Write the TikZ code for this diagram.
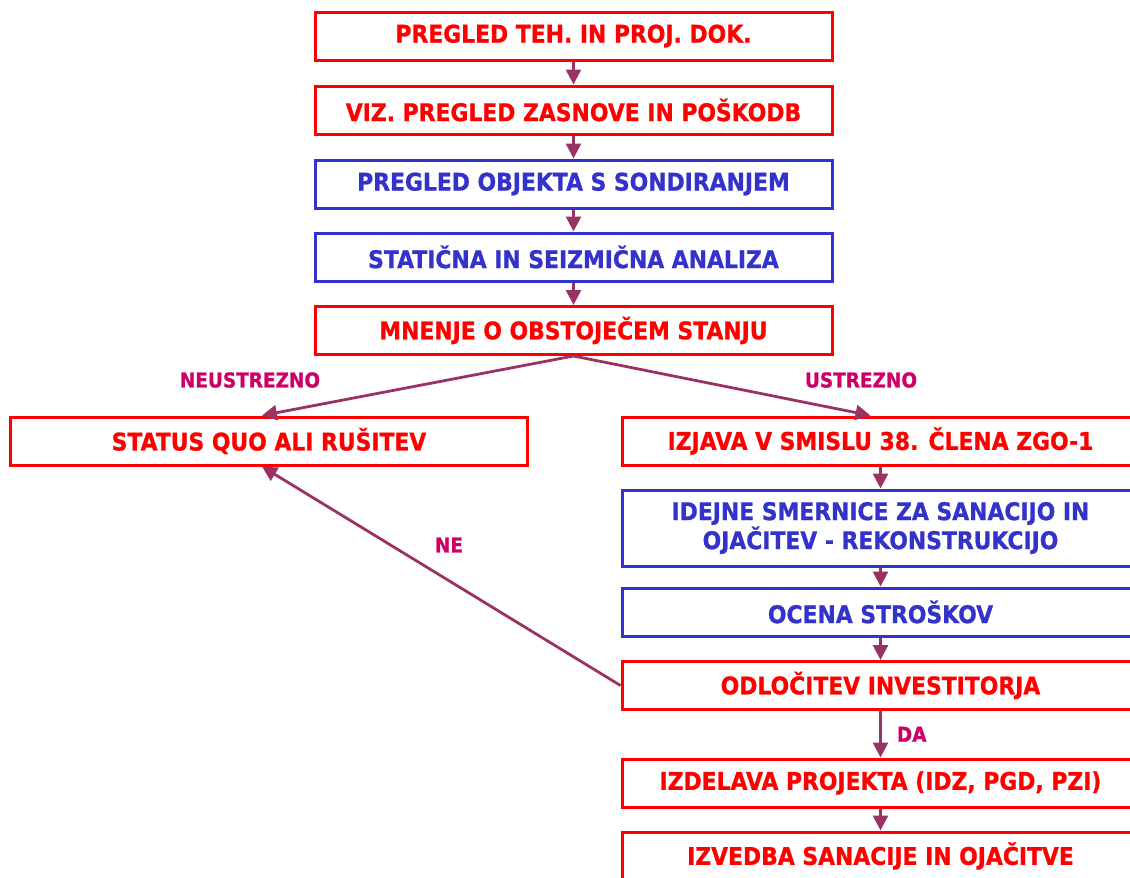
\documentclass[tikz,border=0pt]{standalone}
\usepackage{fontspec}
\setmainfont{DejaVu Sans}[FakeStretch=0.9, FakeBold=1]
\usetikzlibrary{positioning}
\usetikzlibrary{shapes, arrows.meta}
\definecolor{boxred}{HTML}{FF0000}
\definecolor{boxblue}{HTML}{3333CC}
\definecolor{linepurple}{HTML}{993366}
\definecolor{labelpink}{HTML}{CC0066}

\begin{document}
\begin{tikzpicture}[node distance = 74pt, auto]
    \tikzstyle{redblock} = [rectangle, draw=boxred, text=boxred, line width=3pt,
    minimum width=517pt, minimum height=48pt, inner sep=0pt, align=center,
    font=\fontsize{24.3}{29}\selectfont\bfseries]
    \tikzstyle{blueblock} = [redblock, draw=boxblue, text=boxblue]
    \tikzstyle{line} = [draw=linepurple, line width=2.8pt,
    -{Triangle[width=15pt, length=15pt]}]
    \tikzstyle{answer} = [text=labelpink, inner sep=0pt,
    font=\fontsize{20.5}{24}\selectfont\bfseries]
    \useasboundingbox (0pt,0pt) rectangle (1130pt,-878pt);
    \node [redblock] (pregled) at (573.5pt,-36pt) {PREGLED TEH. IN PROJ. DOK.};
    \node [redblock, below of=pregled] (vizualni) {VIZ. PREGLED ZASNOVE IN POŠKODB};
    \node [blueblock, below of=vizualni] (sondiranje) {PREGLED OBJEKTA S SONDIRANJEM};
    \node [blueblock, below of=sondiranje, node distance=73pt] (analiza)
    {STATIČNA IN SEIZMIČNA ANALIZA};
    \node [redblock, below of=analiza, node distance=73.5pt] (mnenje)
    {MNENJE O OBSTOJEČEM STANJU};
    \node [redblock] (izjava) at (880.5pt,-441pt) {IZJAVA V SMISLU 38. ČLENA ZGO-1};
    \node [redblock, left of=izjava, node distance=611.5pt] (status)
    {STATUS QUO ALI RUŠITEV};
    \node [blueblock, below of=izjava, node distance=87pt, minimum height=76pt]
    (smernice) {IDEJNE SMERNICE ZA SANACIJO IN\\OJAČITEV - REKONSTRUKCIJO};
    \node [blueblock, below of=smernice, node distance=84pt] (ocena) {OCENA STROŠKOV};
    \node [redblock, below of=ocena, node distance=73.5pt] (odlocitev)
    {ODLOČITEV INVESTITORJA};
    \node [redblock, below of=odlocitev, node distance=97.5pt] (izdelava)
    {IZDELAVA PROJEKTA (IDZ, PGD, PZI)};
    \node [redblock, below of=izdelava, node distance=73pt] (izvedba)
    {IZVEDBA SANACIJE IN OJAČITVE};
    \node [answer] (neustrezno) at (250pt,-380pt) {NEUSTREZNO};
    \node [answer] (ustrezno) at (861pt,-380pt) {USTREZNO};
    \node [answer] (ne) at (449pt,-545pt) {NE};
    \path [line] (pregled) -- (vizualni);
    \path [line] (vizualni) -- (sondiranje);
    \path [line] (sondiranje) -- (analiza);
    \path [line] (analiza) -- (mnenje);
    \path [line] (mnenje.south) -- ([xshift=-7pt]status.north);
    \path [line] (mnenje.south) -- ([xshift=-10pt]izjava.north);
    \path [line] (izjava) -- (smernice);
    \path [line] (smernice) -- (ocena);
    \path [line] (ocena) -- (odlocitev);
    \path [line] (odlocitev) -- node [answer, right=15pt] (da) {DA} (izdelava);
    \path [line] (izdelava) -- (izvedba);
    \path [line] (odlocitev.west) -- ([xshift=-7pt]status.south);
\end{tikzpicture}
\end{document}
